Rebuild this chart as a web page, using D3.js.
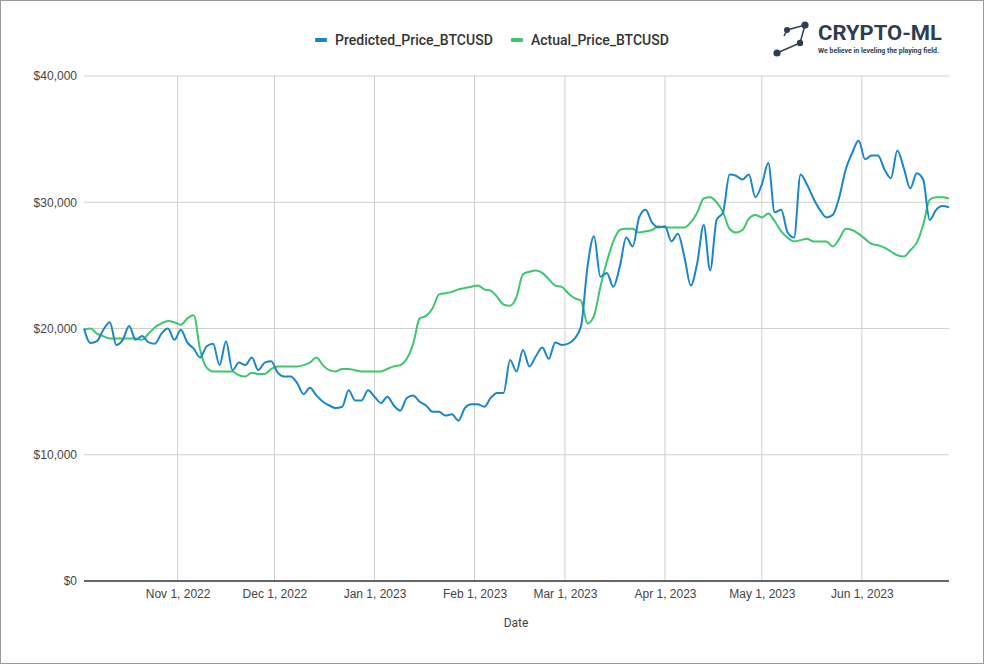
<!DOCTYPE html>
<html>
<head>
<meta charset="utf-8">
<script src="https://cdn.jsdelivr.net/npm/d3@7"></script>
<style>
  html, body { margin: 0; padding: 0; background: #fff; }
  svg { display: block; font-family: Roboto, "Noto Sans", sans-serif; }
  .tick text { fill: #444; font-size: 12px; }
  .domain { display: none; }
</style>
</head>
<body>
<svg id="chart"></svg>
<script>
// data: one reading every 2 days, starting Oct 3, 2022
const startDate = new Date(2022, 9, 3);
const stepDays = 2;

const predictedPrice = [
  20000, 18850, 19000, 19900, 20500, 18700, 19100, 20200, 19100, 19400,
  18900, 18800, 19600, 20000, 19100, 19900, 18900, 18400, 17700, 18600,
  18800, 17100, 19000, 16700, 17300, 17100, 17700, 16700, 17300, 17400,
  16500, 16200, 16200, 15700, 14800, 15300, 14700, 14200, 13900, 13700,
  13800, 15100, 14300, 14300, 15100, 14600, 14100, 14600, 13900, 13500,
  14500, 14700, 14200, 13900, 13400, 13400, 13100, 13200, 12700, 13700,
  14000, 14000, 13800, 14500, 14900, 14900, 17500, 16600, 18300, 17000,
  17800, 18500, 17600, 18900, 18700, 18800, 19200, 20200, 24900, 27300,
  24100, 24400, 23300, 24900, 27200, 26500, 28800, 29400, 28400, 28000,
  28100, 26900, 27500, 25700, 23400, 25200, 28200, 24600, 28600, 29200,
  32200, 32100, 31800, 32200, 30400, 31400, 33100, 29200, 29400, 27600,
  27200, 32200, 31400, 30300, 29400, 28800, 29000, 30400, 32600, 33900,
  34900, 33400, 33700, 33700, 32600, 31900, 34100, 32700, 31100, 32300,
  31800, 28600, 29400, 29700, 29600
];

const actualPrice = [
  19900, 20000, 19600, 19400, 19200, 19200, 19200, 19200, 19200, 19100,
  19600, 20100, 20400, 20600, 20500, 20300, 20800, 21050, 18300, 16900,
  16600, 16600, 16600, 16600, 16300, 16200, 16500, 16400, 16400, 16800,
  17000, 17000, 17000, 17000, 17100, 17300, 17700, 17100, 16700, 16600,
  16800, 16800, 16700, 16600, 16600, 16600, 16600, 16800, 17000, 17100,
  17600, 18800, 20800, 21000, 21600, 22700, 22800, 22900, 23100, 23200,
  23300, 23400, 23100, 23000, 22500, 21900, 21800, 22500, 24300, 24500,
  24600, 24400, 23900, 23400, 23300, 22800, 22400, 22200, 20400, 21000,
  23300, 25300, 26900, 27800, 27900, 27900, 27600, 27700, 27800, 28100,
  28000, 28000, 28000, 28000, 28400, 29200, 30300, 30400, 30000, 29200,
  27900, 27600, 27800, 28700, 29000, 28800, 29100, 28500, 27700, 27200,
  26900, 27000, 27100, 26900, 26900, 26900, 26500, 27100, 27900, 27800,
  27500, 27100, 26700, 26600, 26400, 26100, 25800, 25700, 26200, 26800,
  28200, 30200, 30400, 30400, 30300
];

const seriesNames = ['Predicted_Price_BTCUSD', 'Actual_Price_BTCUSD'];
const seriesColors = ['#1b86c7', '#3ec56f'];
const yTicks = [0, 10000, 20000, 30000, 40000];
const xTicks = [
  new Date(2022, 10, 1), new Date(2022, 11, 1), new Date(2023, 0, 1), new Date(2023, 1, 1),
  new Date(2023, 2, 1), new Date(2023, 3, 1), new Date(2023, 4, 1), new Date(2023, 5, 1)
];

const width = 984, height = 664;
const margin = {top: 76, right: 35, bottom: 83, left: 84};
const innerW = width - margin.left - margin.right;
const innerH = height - margin.top - margin.bottom;

const dates = predictedPrice.map((_, i) => d3.timeDay.offset(startDate, i * stepDays));
const series = [predictedPrice, actualPrice].map((vals, k) => ({
  name: seriesNames[k],
  color: seriesColors[k],
  values: vals.map((v, i) => ({date: dates[i], value: v}))
}));

const svg = d3.select('#chart')
  .attr('width', width)
  .attr('height', height);

// outer frame
svg.append('rect')
  .attr('x', 0.5).attr('y', 0.5)
  .attr('width', width - 1).attr('height', height - 1)
  .attr('fill', '#fff')
  .attr('stroke', '#9a9a9a');

const chart = svg.append('g')
  .attr('transform', `translate(${margin.left},${margin.top})`);

const xScale = d3.scaleTime()
  .domain(d3.extent(dates))
  .range([0, innerW]);

const yScale = d3.scaleLinear()
  .domain([0, 40000])
  .range([innerH, 0]);

// gridlines
chart.append('g')
  .selectAll('line')
  .data(yTicks.filter(d => d > 0))
  .join('line')
  .attr('x1', 0).attr('x2', innerW)
  .attr('y1', d => yScale(d)).attr('y2', d => yScale(d))
  .attr('stroke', '#cfcfcf');

chart.append('g')
  .selectAll('line')
  .data(xTicks)
  .join('line')
  .attr('x1', d => xScale(d)).attr('x2', d => xScale(d))
  .attr('y1', 0).attr('y2', innerH)
  .attr('stroke', '#cfcfcf');

// axes
chart.append('g')
  .call(d3.axisLeft(yScale).tickValues(yTicks).tickSize(0).tickPadding(7).tickFormat(d3.format('$,.0f')));

chart.append('g')
  .attr('transform', `translate(0,${innerH})`)
  .call(d3.axisBottom(xScale).tickValues(xTicks).tickSize(0).tickPadding(8).tickFormat(d3.timeFormat('%b %-d, %Y')));

// lines
const line = d3.line()
  .x(d => xScale(d.date))
  .y(d => yScale(d.value))
  .curve(d3.curveMonotoneX);

chart.selectAll('.series')
  .data(series.slice().reverse())
  .join('path')
  .attr('class', 'series')
  .attr('fill', 'none')
  .attr('stroke', d => d.color)
  .attr('stroke-width', 2)
  .attr('stroke-linejoin', 'round')
  .attr('d', d => line(d.values));

// baseline
chart.append('line')
  .attr('x1', 0).attr('x2', innerW)
  .attr('y1', innerH).attr('y2', innerH)
  .attr('stroke', '#333')
  .attr('stroke-width', 1.5);

// x-axis title
svg.append('text')
  .attr('x', 516).attr('y', 627)
  .attr('text-anchor', 'middle')
  .attr('fill', '#444')
  .style('font-size', '12px')
  .text('Date');

// legend
const legend = svg.append('g');
const legendX = [315, 511];
seriesNames.forEach((name, i) => {
  const g = legend.append('g').attr('transform', `translate(${legendX[i]},40)`);
  g.append('rect')
    .attr('x', 0).attr('y', -2)
    .attr('width', 12).attr('height', 4)
    .attr('rx', 1)
    .attr('fill', seriesColors[i]);
  g.append('text')
    .attr('x', 20).attr('y', 0)
    .attr('dy', '0.35em')
    .attr('fill', '#333')
    .style('font-size', '14px')
    .style('font-weight', 500)
    .text(name);
});

// logo
const logo = svg.append('g').attr('fill', '#2e3e52').attr('stroke', '#2e3e52');
const nodes = [[784, 36], [787, 30], [805, 25], [800, 43], [777, 53]];
logo.append('polyline')
  .attr('points', nodes.map(p => p.join(',')).join(' '))
  .attr('fill', 'none')
  .attr('stroke-width', 1.5);
[[787, 30, 3], [805, 25, 3.6], [800, 43, 3.2], [777, 53, 3.6]].forEach(([cx, cy, r]) => {
  logo.append('circle').attr('cx', cx).attr('cy', cy).attr('r', r).attr('stroke', 'none');
});
logo.append('text')
  .attr('x', 818).attr('y', 40)
  .attr('stroke', 'none')
  .attr('textLength', 124)
  .attr('lengthAdjust', 'spacingAndGlyphs')
  .style('font-size', '20px')
  .style('font-weight', 700)
  .text('CRYPTO-ML');
logo.append('text')
  .attr('x', 818).attr('y', 53)
  .attr('stroke', 'none')
  .attr('textLength', 121)
  .attr('lengthAdjust', 'spacingAndGlyphs')
  .style('font-size', '7px')
  .style('font-weight', 700)
  .text('We believe in leveling the playing field.');
</script>
</body>
</html>
